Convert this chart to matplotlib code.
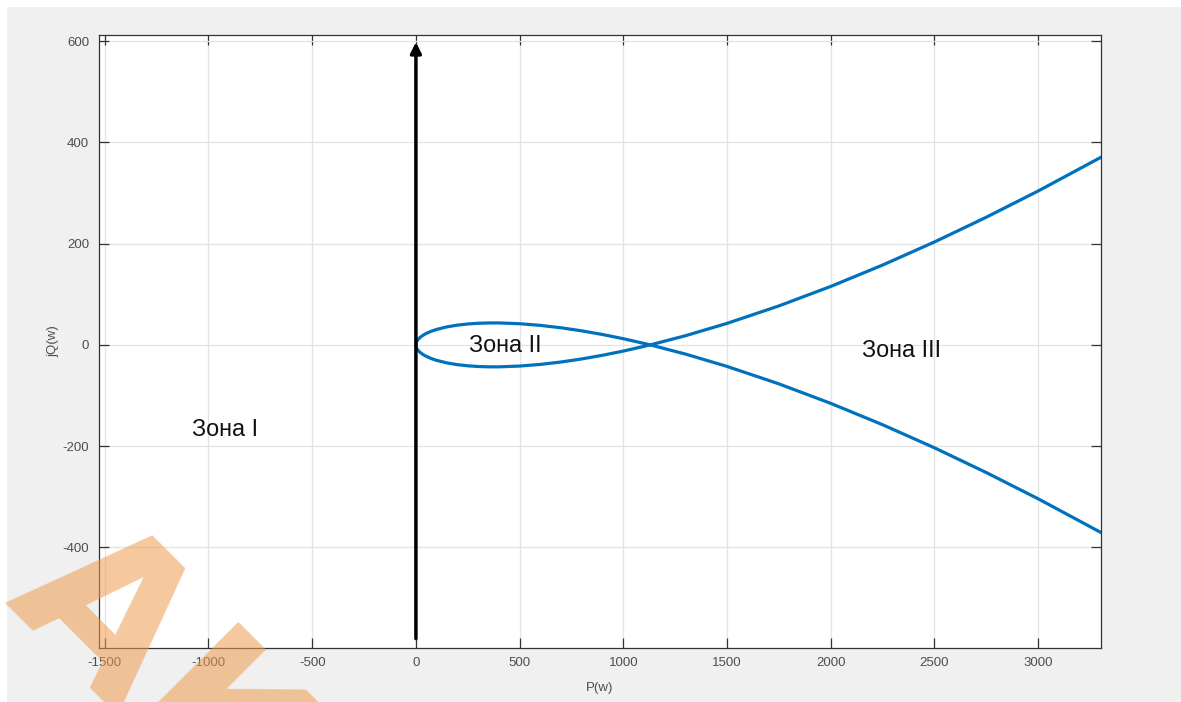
"""
P-Q plane with the three operating zones
"""

import matplotlib
matplotlib.use('Agg')
from matplotlib import pyplot as plt
from matplotlib.patches import Rectangle

plt.rcParams['font.family'] = ['Liberation Sans', 'DejaVu Sans']
plt.rcParams['axes.unicode_minus'] = False

# active power samples along the curve
p_vals = [0, 1, 5, 10, 20, 35, 50, 75, 100, 150, 200, 250, 300, 350, 400,
          500, 600, 700, 800, 900, 1000, 1130, 1300, 1500, 1750, 2000,
          2250, 2500, 2750, 3000, 3300]
# reactive power, branch leaving the origin upwards
q_upper = [0, 3.35, 7.47, 10.51, 14.73, 19.23, 22.67, 27.12, 30.57, 35.63,
           39.04, 41.30, 42.67, 43.31, 43.34, 41.81, 38.53, 33.77, 27.70,
           20.48, 12.20, 0, -18.19, -42.53, -76.98, -115.5, -157.7, -203.3,
           -252.2, -304.0, -370.0]
# reactive power, branch leaving the origin downwards
q_lower = [0, -3.35, -7.47, -10.51, -14.73, -19.23, -22.67, -27.12, -30.57,
           -35.63, -39.04, -41.30, -42.67, -43.31, -43.34, -41.81, -38.53,
           -33.77, -27.70, -20.48, -12.20, 0, 18.19, 42.53, 76.98, 115.5,
           157.7, 203.3, 252.2, 304.0, 370.0]

zone_names = ['Зона I', 'Зона II', 'Зона III']
zone_p = [-920, 430, 2340]
zone_q = [-168, -2, -12]

arrow_p = 0
arrow_q_start = -580
arrow_q_end = 598

x_ticks = [-1500, -1000, -500, 0, 500, 1000, 1500, 2000, 2500, 3000]
y_ticks = [-400, -200, 0, 200, 400, 600]


def draw_background(fig):
	# grey window area, thin white strip on the top and left
	fig.patches.append(Rectangle((7 / 1181, 0), 1, 1 - 7 / 702,
		transform=fig.transFigure, fc='#f0f0f0', ec='none', zorder=-10))


def draw_watermark(fig):
	fig.text(3 / 1181, 1 - 603 / 702, 'AK', transform=fig.transFigure,
		fontsize=150, fontweight='bold', color='#ee9a4d', alpha=0.55,
		rotation=-45, rotation_mode='anchor', ha='left', va='baseline',
		family='DejaVu Sans', zorder=20)


def create_plot():
	fig = plt.figure(figsize=(11.81, 7.02), dpi=100, facecolor='white')
	draw_background(fig)
	ax = fig.add_axes([0.0838, 0.0774, 0.8485, 0.8727])
	ax.set_facecolor('white')

	ax.plot(p_vals, q_upper, color='#0072bd', lw=2.3, zorder=3)
	ax.plot(p_vals, q_lower, color='#0072bd', lw=2.3, zorder=3)

	ax.annotate('', xy=(arrow_p, arrow_q_end), xytext=(arrow_p, arrow_q_start),
		arrowprops=dict(arrowstyle='-|>', lw=2.5, color='black',
			mutation_scale=16, shrinkA=0, shrinkB=0), zorder=4)

	for name, p, q in zip(zone_names, zone_p, zone_q):
		ax.text(p, q, name, fontsize=16.8, ha='center', va='center', color='#111111')

	ax.set_xlim(-1528, 3303)
	ax.set_ylim(-598, 612)
	ax.set_xticks(x_ticks)
	ax.set_yticks(y_ticks)
	ax.grid(True, color='#e3e3e3', lw=0.9, zorder=0)
	ax.set_axisbelow(True)
	ax.tick_params(direction='in', length=7, width=0.9, colors='#333333',
		labelcolor='#4d4d4d', labelsize=9.5, top=True, right=True, pad=7)
	for s in ax.spines.values():
		s.set_color('#333333')
		s.set_linewidth(0.9)

	ax.set_xlabel('P(w)', fontsize=9.5, color='#4d4d4d', labelpad=9)
	ax.set_ylabel('jQ(w)', fontsize=9.5, color='#4d4d4d', labelpad=2)

	draw_watermark(fig)
	fig.savefig('out.png', dpi=100)


if __name__ == '__main__':
	create_plot()
